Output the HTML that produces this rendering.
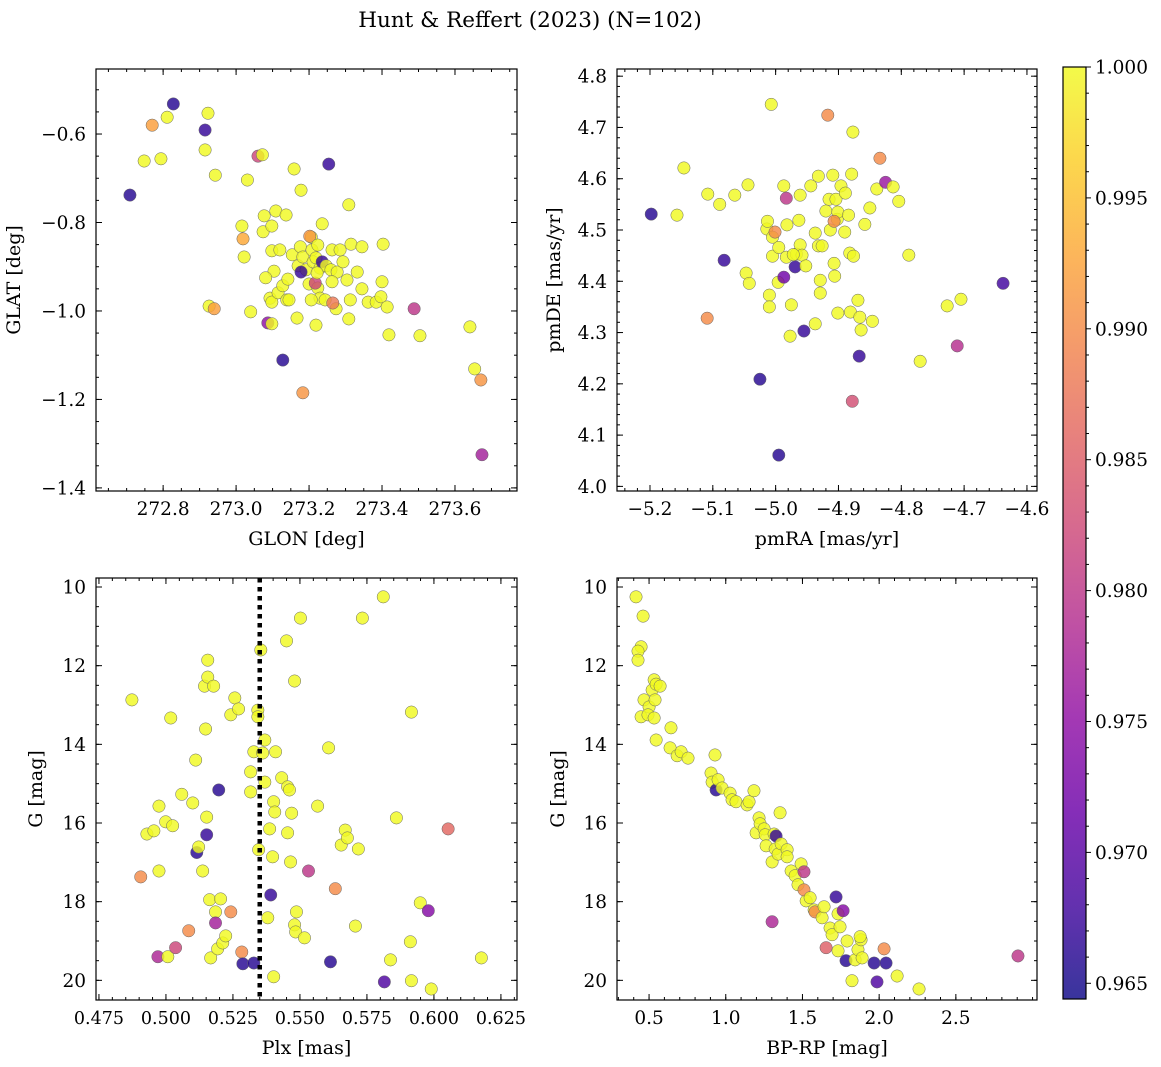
<!DOCTYPE html>
<html><head><meta charset="utf-8">
<style>
html,body{margin:0;padding:0;background:#fff;}
svg{display:block;font-family:"DejaVu Serif","Liberation Serif",serif;}
</style></head>
<body>
<svg id="fig" width="1161" height="1067" viewBox="0 0 1161 1067" xmlns="http://www.w3.org/2000/svg">
<defs>
<linearGradient id="plasma" x1="0" y1="1" x2="0" y2="0">
<stop offset="0" stop-color="#0d0887"/><stop offset="0.1" stop-color="#41049d"/>
<stop offset="0.2" stop-color="#6a00a8"/><stop offset="0.3" stop-color="#8f0da4"/>
<stop offset="0.4" stop-color="#b12a90"/><stop offset="0.5" stop-color="#cc4778"/>
<stop offset="0.6" stop-color="#e16462"/><stop offset="0.7" stop-color="#f2844b"/>
<stop offset="0.8" stop-color="#fca636"/><stop offset="0.9" stop-color="#fcce25"/>
<stop offset="1" stop-color="#f0f921"/>
</linearGradient>
</defs>
<text x="530" y="27" font-size="21.5" text-anchor="middle">Hunt &amp; Reffert (2023) (N=102)</text>
</svg>
<script>
// ---- Panel 1: sky positions ----
const glon = [272.828,272.709,272.770,272.811,272.748,272.794,272.915,272.923,272.915,272.943,272.926,272.940,273.031,273.060,273.072,273.016,273.019,273.022,273.040,273.077,273.074,273.098,273.109,273.137,273.098,273.120,273.104,273.081,273.093,273.098,273.087,273.098,273.115,273.128,273.139,273.128,273.159,273.178,273.154,273.170,273.142,273.145,273.167,273.183,273.254,273.176,273.183,273.192,273.200,273.178,273.208,273.211,273.206,273.202,273.224,273.219,273.230,273.224,273.217,273.236,273.247,273.230,273.206,273.222,273.236,273.244,273.219,273.260,273.263,273.277,273.263,273.274,273.285,273.304,273.313,273.265,273.309,273.293,273.315,273.309,273.332,273.345,273.345,273.362,273.384,273.400,273.397,273.414,273.403,273.419,273.488,273.504,273.641,273.654,273.671,273.674];
const glat = [-0.532,-0.738,-0.580,-0.562,-0.661,-0.656,-0.591,-0.553,-0.636,-0.693,-0.989,-0.995,-0.704,-0.650,-0.647,-0.808,-0.837,-0.878,-1.002,-0.785,-0.821,-0.808,-0.774,-0.783,-0.864,-0.862,-0.910,-0.925,-0.971,-0.980,-1.027,-1.029,-0.959,-0.943,-0.975,-1.111,-0.679,-0.727,-0.873,-0.898,-0.928,-0.975,-1.016,-1.185,-0.668,-0.855,-0.878,-0.907,-0.939,-0.912,-0.862,-0.889,-0.833,-0.831,-0.851,-0.880,-0.903,-0.948,-0.937,-0.889,-0.898,-0.971,-0.975,-0.914,-0.803,-0.975,-1.032,-0.907,-0.862,-0.912,-0.934,-0.995,-0.862,-0.930,-0.975,-0.982,-1.018,-0.889,-0.849,-0.760,-0.912,-0.855,-0.950,-0.980,-0.980,-0.934,-0.968,-0.991,-0.849,-1.054,-0.995,-1.056,-1.036,-1.131,-1.156,-1.325];
const probSky = [0.966,0.966,0.992,1,1,1,0.967,1,1,1,1,0.992,1,0.982,1,1,0.993,1,1,1,1,1,1,1,1,1,1,1,1,1,0.975,1,1,1,1,0.966,1,1,1,1,1,1,1,0.991,0.967,1,1,1,1,0.967,1,1,1,0.991,1,1,1,1,0.982,0.967,1,1,1,1,1,1,1,1,1,1,1,1,1,1,1,0.988,1,1,1,1,1,1,1,1,1,1,1,1,1,1,0.980,1,1,1,0.991,0.977];
// ---- Panel 2: proper motions ----
const pmra = [-5.198,-5.146,-5.157,-5.108,-5.089,-5.082,-5.109,-5.065,-5.044,-5.047,-5.042,-5.025,-5.007,-5.014,-5.013,-5.010,-5.010,-5.005,-5.001,-5.005,-4.996,-4.995,-4.987,-4.983,-4.982,-4.987,-4.983,-4.977,-4.975,-4.967,-4.969,-4.963,-4.961,-4.958,-4.961,-4.955,-4.952,-4.944,-4.937,-4.937,-4.932,-4.932,-4.929,-4.929,-4.926,-4.920,-4.917,-4.915,-4.913,-4.907,-4.909,-4.904,-4.902,-4.901,-4.907,-4.906,-4.901,-4.896,-4.890,-4.889,-4.884,-4.877,-4.879,-4.882,-4.876,-4.881,-4.878,-4.869,-4.867,-4.866,-4.864,-4.858,-4.850,-4.846,-4.839,-4.834,-4.825,-4.813,-4.804,-4.788,-4.770,-4.727,-4.705,-4.711,-4.638,-4.995,-4.972];
const pmde = [4.531,4.621,4.529,4.570,4.550,4.441,4.328,4.568,4.588,4.416,4.396,4.209,4.745,4.502,4.517,4.373,4.350,4.486,4.496,4.449,4.398,4.061,4.586,4.562,4.510,4.408,4.447,4.293,4.354,4.453,4.428,4.519,4.471,4.451,4.568,4.303,4.430,4.586,4.494,4.317,4.605,4.469,4.402,4.377,4.469,4.537,4.724,4.560,4.500,4.435,4.607,4.560,4.521,4.535,4.517,4.410,4.338,4.586,4.496,4.572,4.529,4.691,4.609,4.455,4.449,4.340,4.166,4.363,4.254,4.330,4.305,4.511,4.543,4.322,4.580,4.640,4.593,4.584,4.556,4.451,4.244,4.352,4.365,4.274,4.396,4.466,4.452];
const probPm = [0.966,1,1,1,1,0.967,0.990,1,1,1,1,0.966,1,1,1,1,1,1,0.990,1,1,0.966,1,0.980,1,0.972,1,1,1,1,0.967,1,1,1,1,0.967,1,1,1,1,1,1,1,1,1,1,0.990,1,1,1,1,1,1,1,0.990,1,1,1,1,1,1,1,1,1,1,1,0.983,1,0.967,1,1,1,1,1,1,0.990,0.976,1,1,1,1,1,1,0.979,0.968,1,1];
// ---- Panel 3: parallax vs G ----
const plx = [0.4873,0.4906,0.4929,0.4955,0.4974,0.4974,0.4970,0.5007,0.5018,0.4999,0.5025,0.5036,0.5059,0.5085,0.5100,0.5111,0.5115,0.5122,0.5137,0.5144,0.5152,0.5148,0.5156,0.5156,0.5152,0.5163,0.5167,0.5178,0.5185,0.5185,0.5193,0.5197,0.5204,0.5212,0.5223,0.5242,0.5242,0.5257,0.5271,0.5283,0.5287,0.5316,0.5316,0.5328,0.5328,0.5343,0.5343,0.5346,0.5354,0.5361,0.5369,0.5369,0.5380,0.5387,0.5391,0.5398,0.5402,0.5402,0.5406,0.5409,0.5432,0.5450,0.5454,0.5454,0.5461,0.5465,0.5469,0.5480,0.5480,0.5484,0.5487,0.5502,0.5517,0.5532,0.5566,0.5614,0.5607,0.5632,0.5654,0.5669,0.5677,0.5707,0.5718,0.5733,0.5811,0.5815,0.5838,0.5860,0.5916,0.5912,0.5916,0.5949,0.5979,0.5990,0.6053,0.6177];
const gPlx = [12.87,17.37,16.28,16.20,15.57,17.22,19.40,19.40,13.33,15.97,16.07,19.17,15.27,18.74,15.49,14.40,16.75,16.61,17.22,12.52,15.85,13.61,11.86,12.29,16.30,17.95,19.43,12.52,18.26,18.54,19.20,15.16,17.93,19.05,18.87,13.25,18.26,12.82,13.10,19.28,19.58,14.70,15.21,14.19,19.56,13.13,13.30,16.68,11.60,14.22,13.89,14.96,18.41,16.15,17.83,16.86,19.91,15.46,15.72,14.19,14.85,11.37,15.08,16.25,15.16,16.99,15.75,12.39,18.59,18.77,18.26,10.79,18.92,17.22,15.57,19.53,14.09,17.67,16.56,16.18,16.38,18.62,16.66,10.79,10.25,20.04,19.48,15.87,13.18,19.02,20.01,18.03,18.23,20.22,16.15,19.43];
const probPlx = [1,0.990,1,1,1,1,0.978,1,1,1,1,0.982,1,0.990,1,1,0.966,1,1,1,1,1,1,1,0.967,1,1,1,1,0.977,1,0.966,1,1,1,1,0.990,1,1,0.990,0.966,1,1,1,0.966,1,1,1,1,1,1,1,1,1,0.967,1,1,1,1,1,1,1,1,1,1,1,1,1,1,1,1,1,1,0.980,1,0.966,1,0.990,1,1,1,1,1,1,1,0.969,1,1,1,1,1,1,0.974,1,0.986,1];
const plxLine = 0.535;
// ---- Panel 4: colour-magnitude ----
const bprp = [0.415,0.461,0.448,0.428,0.428,0.448,0.467,0.500,0.493,0.520,0.533,0.546,0.539,0.533,0.572,0.546,0.637,0.643,0.683,0.709,0.754,0.930,0.904,0.911,0.937,0.950,0.976,1.028,1.041,1.067,1.139,1.152,1.184,1.198,1.217,1.224,1.250,1.257,1.263,1.302,1.315,1.302,1.322,1.328,1.341,1.354,1.361,1.400,1.400,1.426,1.452,1.471,1.491,1.510,1.524,1.510,1.550,1.576,1.582,1.628,1.641,1.654,1.680,1.693,1.719,1.732,1.745,1.765,1.784,1.732,1.791,1.823,1.843,1.862,1.889,1.882,1.876,1.967,1.986,2.045,2.032,2.117,2.260,2.905];
const gCmd = [10.25,10.74,11.52,11.63,11.86,13.30,12.87,13.05,13.25,12.62,12.36,12.47,12.87,13.33,12.52,13.89,14.09,13.58,14.29,14.19,14.35,14.27,14.73,14.96,15.16,14.90,15.11,15.24,15.41,15.46,15.54,15.46,15.18,16.25,15.87,16.02,16.15,16.30,16.58,18.51,16.28,16.99,16.66,16.33,16.79,15.74,16.53,16.68,16.86,17.22,17.34,17.57,17.04,17.24,17.98,17.70,17.90,18.21,18.26,18.41,18.13,19.17,18.67,18.84,17.88,18.31,18.64,18.23,19.50,19.25,19.00,20.01,19.48,19.22,19.43,18.97,18.89,19.56,20.04,19.56,19.20,19.89,20.22,19.38];
const probCmd = [1,1,1,1,1,1,1,1,1,1,1,1,1,1,1,1,1,1,1,1,1,1,1,1,0.966,1,1,1,1,1,1,1,1,1,1,1,1,1,1,0.978,1,1,1,0.967,1,1,1,1,1,1,1,1,1,0.980,1,0.990,1,1,0.990,1,1,0.985,1,1,0.967,1,1,0.974,0.966,1,1,1,1,1,1,1,1,0.966,0.969,0.966,0.990,1,1,0.980];
// ---- Tick labels ----
const ticksGlon = [272.8,273.0,273.2,273.4,273.6];
const ticksGlat = [-0.6,-0.8,-1.0,-1.2,-1.4];
const ticksPmra = [-5.2,-5.1,-5.0,-4.9,-4.8,-4.7,-4.6];
const ticksPmde = [4.0,4.1,4.2,4.3,4.4,4.5,4.6,4.7,4.8];
const ticksPlx = [0.475,0.500,0.525,0.550,0.575,0.600,0.625];
const ticksG = [10,12,14,16,18,20];
const ticksBprp = [0.5,1.0,1.5,2.0,2.5];
const ticksCbar = [0.965,0.970,0.975,0.980,0.985,0.990,0.995,1.000];
const vmin = 0.9644, vmax = 1.0;

const NS = "http://www.w3.org/2000/svg";
const svg = document.getElementById('fig');
function mk(tag, attrs, parent){const e=document.createElementNS(NS,tag);for(const k in attrs)e.setAttribute(k,attrs[k]);(parent||svg).appendChild(e);return e;}

const stops=[[13,8,135],[65,4,157],[106,0,168],[143,13,164],[177,42,144],[204,71,120],[225,100,98],[242,132,75],[252,166,54],[252,206,37],[240,249,33]];
function plasma(t){t=Math.max(0,Math.min(1,t));const f=t*10;const i=Math.min(9,Math.floor(f));const u=f-i;const a=stops[i],b=stops[i+1];return 'rgb('+[0,1,2].map(k=>Math.round(a[k]+(b[k]-a[k])*u)).join(',')+')';}

const TF=18.5, LF=19;
function panel(name, box, xd, yd, xt, yt, xminor, yminor, xfmt, yfmt, xlab, ylab, ylabX, xfs){
  const [L,T,R,B]=box;
  const sx=v=>L+(v-xd[0])/(xd[1]-xd[0])*(R-L);
  const sy=v=>T+(v-yd[0])/(yd[1]-yd[0])*(B-T);
  const g=mk('g',{});
  
  
  const drawTicks=(vals,len,isX)=>{vals.forEach(v=>{
    if(isX){const x=sx(v); if(x<L-0.5||x>R+0.5)return; mk('line',{x1:x,y1:B,x2:x,y2:B-len,stroke:'#000','stroke-width':1},g);mk('line',{x1:x,y1:T,x2:x,y2:T+len,stroke:'#000','stroke-width':1},g);}
    else{const y=sy(v); if(y<Math.min(T,B)-0.5||y>Math.max(T,B)+0.5)return; mk('line',{x1:L,y1:y,x2:L+len,y2:y,stroke:'#000','stroke-width':1},g);mk('line',{x1:R,y1:y,x2:R-len,y2:y,stroke:'#000','stroke-width':1},g);}
  });};
  const mn=(a,b,s)=>{const r=[];const n=Math.round((b-a)/s);for(let i=0;i<=n;i++)r.push(a+i*s);return r;};
  drawTicks(mn(xminor[0],xminor[1],xminor[2]),3,true);
  drawTicks(mn(yminor[0],yminor[1],yminor[2]),3,false);
  drawTicks(xt,6,true); drawTicks(yt,6,false);
  xt.forEach(v=>{const t=mk('text',{x:sx(v),y:B+24,'font-size':xfs||TF,'text-anchor':'middle'},g);t.textContent=xfmt(v);
    
    });
  yt.forEach(v=>{const t=mk('text',{x:L-10,y:sy(v)+6.5,'font-size':TF,'text-anchor':'end'},g);t.textContent=yfmt(v);
    
    });
  const xl=mk('text',{x:(L+R)/2,y:B+54,'font-size':LF,'text-anchor':'middle'},g);xl.textContent=xlab;
  
  
  const cy=(T+B)/2;
  const yl=mk('text',{x:ylabX,y:cy,'font-size':LF,'text-anchor':'middle',transform:'rotate(-90 '+ylabX+' '+cy+')'},g);yl.textContent=ylab;
  
  
  return {g,sx,sy,box};
}
function frame(p){const [L,T,R,B]=p.box;const r=mk('rect',{x:L,y:T,width:R-L,height:B-T,fill:'none',stroke:'#000','stroke-width':1.2},p.g);
  
  }
function scatter(p,xs,ys,ps){
  xs.forEach((x,i)=>{const c=mk('circle',{cx:p.sx(x),cy:p.sy(ys[i]),r:6.2,fill:plasma((ps[i]-vmin)/(vmax-vmin)),'fill-opacity':0.82,stroke:'#666','stroke-width':0.5},p.g);
    
    });
}
const f1=v=>v.toFixed(1).replace('-','\u2212');
const f3=v=>v.toFixed(3);
const f0=v=>String(v);

const p1=panel('sky-panel',[96,69,517,491],[272.616,273.770],[-0.453,-1.407],ticksGlon,ticksGlat,[272.65,273.75,0.05],[-0.45,-1.40,-0.05],f1,f1,'GLON [deg]','GLAT [deg]',20);
scatter(p1,glon,glat,probSky);frame(p1);
const p2=panel('proper-motion-panel',[617,69,1037,491],[-5.2525,-4.584],[4.814,3.991],ticksPmra,ticksPmde,[-5.24,-4.60,0.02],[4.0,4.8,0.02],f1,f1,'pmRA [mas/yr]','pmDE [mas/yr]',560);
scatter(p2,pmra,pmde,probPm);frame(p2);
const p3=panel('parallax-panel',[96,578,517,1000],[0.4739,0.631],[9.771,20.50],ticksPlx,ticksG,[0.475,0.630,0.005],[10,20.5,0.5],f3,f0,'Plx [mas]','G [mag]',42,17.5);
scatter(p3,plx,gPlx,probPlx);
const dl=mk('line',{x1:p3.sx(plxLine),y1:578,x2:p3.sx(plxLine),y2:1000,stroke:'#000','stroke-width':4.5,'stroke-dasharray':'4.5,4.5'},p3.g);


frame(p3);
const p4=panel('cmd-panel',[617,578,1037,1000],[0.291,3.029],[9.771,20.50],ticksBprp,ticksG,[0.3,3.0,0.1],[10,20.5,0.5],f1,f0,'BP-RP [mag]','G [mag]',564);
scatter(p4,bprp,gCmd,probCmd);frame(p4);

// colorbar
const cb=mk('g',{});


const cT=67,cB=999,cL=1063,cR=1086;
mk('rect',{x:cL,y:cT,width:cR-cL,height:cB-cT,fill:'url(#plasma)','fill-opacity':0.82},cb);
const cy=v=>cB-(v-vmin)/(vmax-vmin)*(cB-cT);
for(let k=965;k<=1000;k++){const v=k/1000;const y=cy(v);const major=(k%5===0);
  mk('line',{x1:cR,y1:y,x2:cR+(major?5:3),y2:y,stroke:'#000','stroke-width':1},cb);}
ticksCbar.forEach(v=>{const t=mk('text',{x:1095,y:cy(v)+6.5,'font-size':TF},cb);t.textContent=v.toFixed(3);
  
  });
mk('rect',{x:cL,y:cT,width:cR-cL,height:cB-cT,fill:'none',stroke:'#000','stroke-width':1.2},cb);
</script>
</body></html>
